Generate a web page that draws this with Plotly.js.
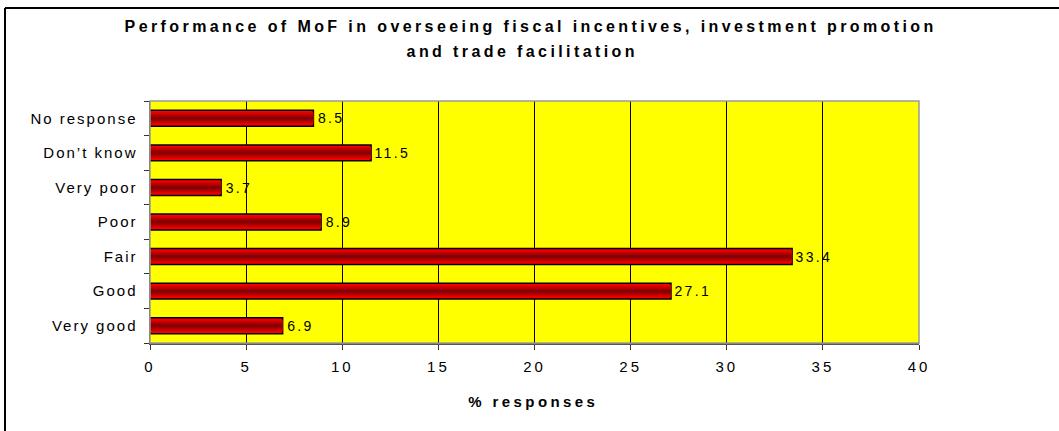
<!DOCTYPE html>
<html>
<head>
<meta charset="utf-8">
<script src="https://cdn.plot.ly/plotly-3.0.1.min.js"></script>
<style>
html,body{margin:0;padding:0;background:#fff;}
#chart{width:1059px;height:431px;}
#chart .ytick text{letter-spacing:2px;}
#chart .xtick text{letter-spacing:3px;}
#chart .bartext{letter-spacing:2.5px;}
#chart .annotation-text{letter-spacing:3.4px;}
</style>
</head>
<body>
<div id="chart"></div>
<script>
const categories = ["Very good", "Good", "Fair", "Poor", "Very poor", "Don\u2019t know", "No response"];
const values = [6.9, 27.1, 33.4, 8.9, 3.7, 11.5, 8.5];
const xTicks = [0, 5, 10, 15, 20, 25, 30, 35, 40];
const titleLines = ["Performance of MoF in overseeing fiscal incentives, investment promotion", "and trade facilitation"];
const xTitle = "% responses";

const font = "Liberation Sans, Arial, sans-serif";
// layered bars to imitate the vertical gradient of the original
const layers = [
  {w: 0.46, c: "#ff0000", line: 1.5},
  {w: 0.36, c: "#e00000", line: 0},
  {w: 0.26, c: "#c00000", line: 0},
  {w: 0.16, c: "#a00000", line: 0},
  {w: 0.07, c: "#850000", line: 0}
];
const traces = layers.map((L, i) => ({
  type: "bar",
  orientation: "h",
  x: values,
  y: categories,
  width: L.w,
  marker: {color: L.c, line: {color: "#000", width: L.line}},
  text: i === 0 ? values.map(v => "\u00a0" + v.toFixed(1)) : undefined,
  textposition: i === 0 ? "outside" : "none",
  cliponaxis: false,
  textfont: {family: font, size: 15, color: "#000"},
  hoverinfo: "skip",
  showlegend: false
}));

const px2x = px => (px - 150) / 769;
const px2y = py => (343 - py) / 242;

const layout = {
  width: 1059, height: 431,
  margin: {l: 150, r: 140, t: 101, b: 88},
  paper_bgcolor: "#fff",
  plot_bgcolor: "#ffff00",
  barmode: "overlay",
  font: {family: font, size: 15, color: "#000"},
  xaxis: {
    range: [0, 40],
    tickvals: xTicks,
    ticktext: xTicks.map(String),
    ticks: "outside", ticklen: 5, tickcolor: "#333",
    ticklabelstandoff: 4,
    showgrid: true, gridcolor: "#000", gridwidth: 1,
    showline: true, linecolor: "#555", linewidth: 1.5,
    mirror: false, zeroline: false,
    tickfont: {family: font, size: 15}
  },
  yaxis: {
    categoryorder: "array", categoryarray: categories,
    ticks: "outside", ticklen: 5, tickcolor: "#333",
    tickson: "boundaries",
    showgrid: false,
    showline: true, linecolor: "#555", linewidth: 1.5,
    zeroline: false,
    ticklabelstandoff: 8,
    tickfont: {family: font, size: 15}
  },
  annotations: [
    {text: "<b>" + titleLines[0] + "</b>", xref: "paper", yref: "paper", x: px2x(530), y: px2y(26),
     xanchor: "center", yanchor: "middle", showarrow: false, font: {family: font, size: 16, color: "#000"}},
    {text: "<b>" + titleLines[1] + "</b>", xref: "paper", yref: "paper", x: px2x(522), y: px2y(51),
     xanchor: "center", yanchor: "middle", showarrow: false, font: {family: font, size: 16, color: "#000"}},
    {text: "<b>" + xTitle + "</b>", xref: "paper", yref: "paper", x: px2x(533), y: px2y(401),
     xanchor: "center", yanchor: "middle", showarrow: false, font: {family: font, size: 15, color: "#000"}}
  ],
  shapes: [
    {type: "rect", xref: "paper", yref: "paper", x0: 0, x1: 1, y0: 0, y1: 1,
     line: {color: "#999", width: 1.5}, fillcolor: "rgba(0,0,0,0)", layer: "above"},
    {type: "line", xref: "paper", yref: "paper", x0: px2x(5), x1: 1.2, y0: px2y(8), y1: px2y(8),
     line: {color: "#000", width: 2}},
    {type: "line", xref: "paper", yref: "paper", x0: px2x(5), x1: px2x(5), y0: -0.4, y1: px2y(8),
     line: {color: "#000", width: 2}}
  ]
};

Plotly.newPlot("chart", traces, layout, {displayModeBar: false, staticPlot: true});
</script>
</body>
</html>
